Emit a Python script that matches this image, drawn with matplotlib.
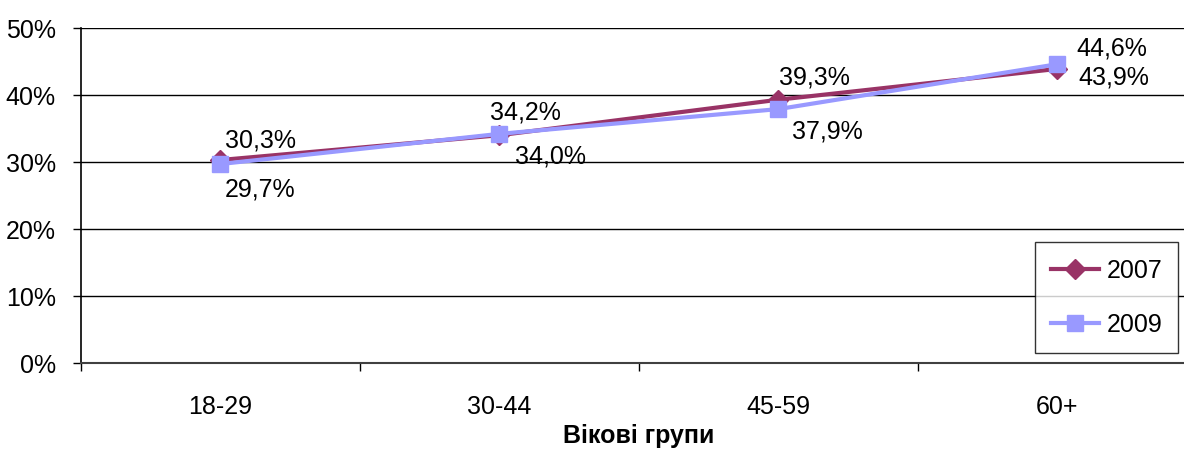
import matplotlib
matplotlib.use("Agg")
from matplotlib import pyplot as plt
import numpy as np

plt.rcParams['font.family'] = ['Liberation Sans', 'DejaVu Sans']

groups = ['18-29', '30-44', '45-59', '60+']
vals_2007 = [30.3, 34.0, 39.3, 43.9]
vals_2009 = [29.7, 34.2, 37.9, 44.6]
yticks = [0, 10, 20, 30, 40, 50]

# label offsets in pixels (dx, dy) for each point
offs_2007 = [(40, 20), (51, -20), (36, 23), (56, -8)]
offs_2009 = [(40, -24), (26, 22), (49, -21), (54, 17)]

c07 = '#993366'
c09 = '#9999FF'
fs = 18

W, H = 1184, 452
fig = plt.figure(figsize=(W / 100, H / 100), dpi=100)
ax = fig.add_axes([81 / W, 88 / H, (1197 - 81) / W, (364 - 29) / H])

x = np.arange(len(groups))
ax.plot(x, vals_2007, color=c07, lw=3, marker='D', ms=10, label='2007', zorder=3)
ax.plot(x, vals_2009, color=c09, lw=3, marker='s', ms=11, label='2009', zorder=4)

for i in range(len(groups)):
    ax.annotate(f"{vals_2007[i]:.1f}%".replace('.', ','), (x[i], vals_2007[i]),
                xytext=offs_2007[i], textcoords='offset pixels',
                ha='center', va='center', fontsize=fs, zorder=5)
    ax.annotate(f"{vals_2009[i]:.1f}%".replace('.', ','), (x[i], vals_2009[i]),
                xytext=offs_2009[i], textcoords='offset pixels',
                ha='center', va='center', fontsize=fs, zorder=5)

ax.set_xlim(-0.5, len(groups) - 0.5)
ax.set_ylim(0, 50)
ax.set_yticks(yticks)
ax.set_yticklabels([f"{t}%" for t in yticks], fontsize=fs)
ax.set_xticks(x)
ax.set_xticklabels(groups, fontsize=fs)
ax.set_xticks(np.arange(len(groups) + 1) - 0.5, minor=True)
ax.tick_params(axis='x', which='major', length=0, pad=22)
ax.tick_params(axis='x', which='minor', length=6, width=1, direction='out')
ax.tick_params(axis='y', length=6, width=1, direction='out', pad=12)

for t in yticks[1:]:
    ax.axhline(t, color='black', lw=1, zorder=1)
for s in ['top', 'right']:
    ax.spines[s].set_visible(False)
ax.spines['left'].set_linewidth(1.2)
ax.spines['bottom'].set_linewidth(1.5)
ax.spines['bottom'].set_color('#404040')

ax.set_xlabel('Вікові групи', fontsize=fs, fontweight='bold', labelpad=4)

leg = ax.legend(loc='upper left', bbox_to_anchor=(1035 / W, 1 - 243 / H),
                bbox_transform=fig.transFigure, fontsize=fs, frameon=True,
                fancybox=False, edgecolor='black', handlelength=1.9,
                handletextpad=0.3, labelspacing=1.2, borderpad=0.65,
                borderaxespad=0)
leg.get_frame().set_linewidth(1)

fig.savefig('out.png', dpi=100)
